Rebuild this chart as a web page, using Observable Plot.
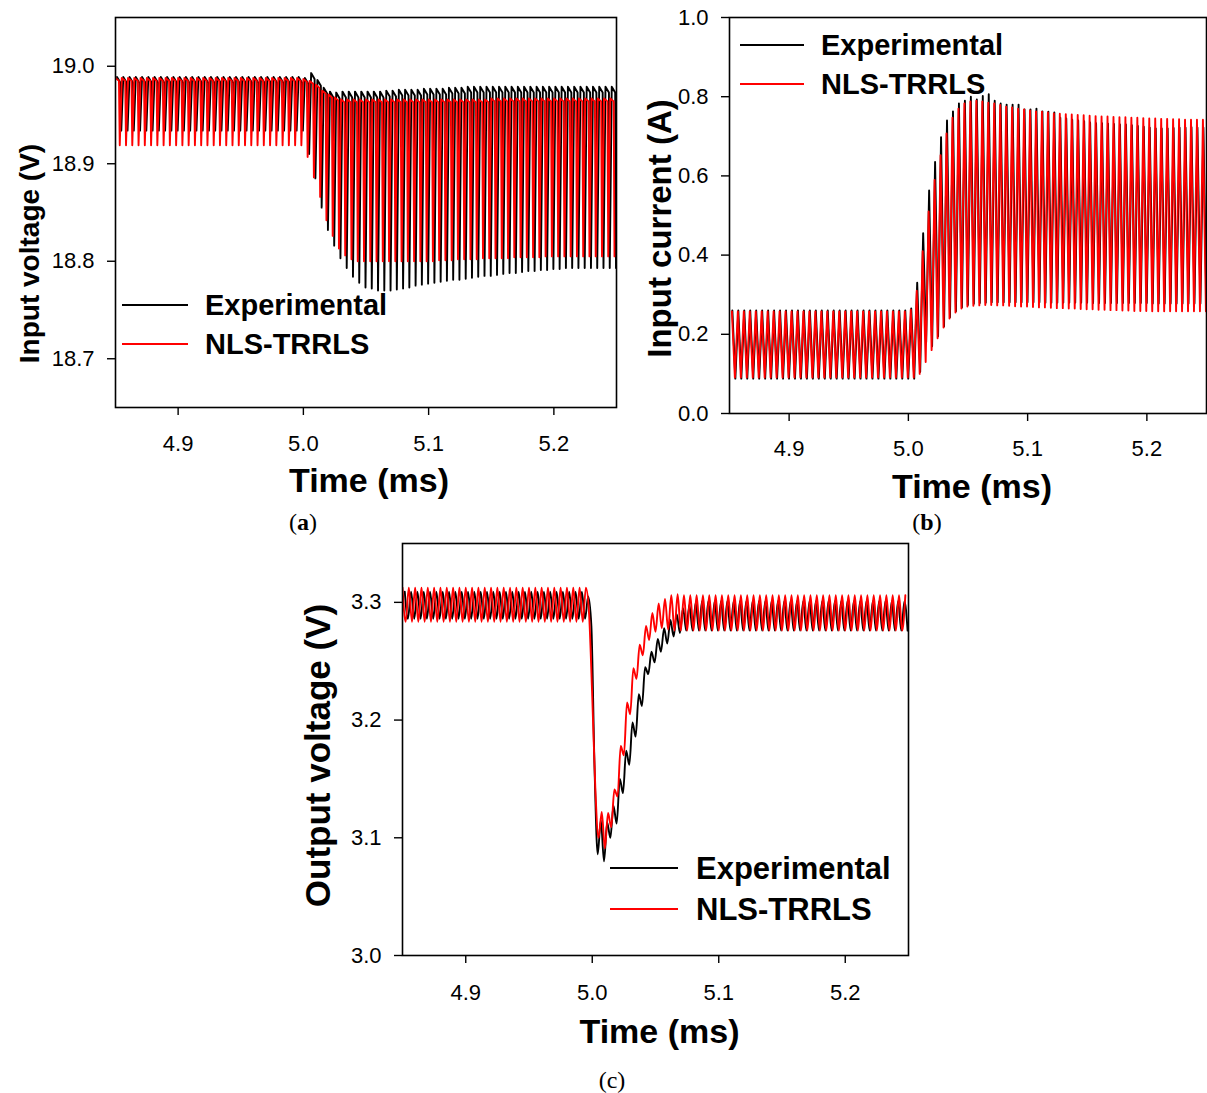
<!DOCTYPE html>
<html>
<head>
<meta charset="utf-8">
<script src="https://cdn.jsdelivr.net/npm/d3@7"></script>
<script src="https://cdn.jsdelivr.net/npm/@observablehq/plot@0.6"></script>
<style>
  body { margin: 0; background: #fff; }
  #root { position: relative; width: 1207px; height: 1093px; overflow: hidden; background: #fff;
          font-family: "Liberation Sans", Arial, sans-serif; }
  .panel { position: absolute; }
  .panel svg { display: block; max-width: none !important; }
  .lg-line { position: absolute; height: 2px; }
  .lg-text { position: absolute; font-weight: bold; line-height: 1; transform: translateY(-50%); color: #000; white-space: nowrap; }
  .cap { position: absolute; font-family: "Liberation Serif", "DejaVu Serif", serif; font-size: 24px;
         transform: translate(-50%, -50%); color: #000; white-space: nowrap; }
</style>
</head>
<body>
<div id="root"></div>
<script>
// ---------------- DATA ----------------
const seriesNames = ["Experimental", "NLS-TRRLS"];
const seriesColors = ["#000000", "#ff0000"];
const xTicks = [4.9, 5.0, 5.1, 5.2];
const yTicksA = [18.7, 18.8, 18.9, 19.0];
const yTicksB = [0.0, 0.2, 0.4, 0.6, 0.8, 1.0];
const yTicksC = [3.0, 3.1, 3.2, 3.3];
const panelCaptions = ["a", "b", "c"];

// start time (ms) of each switching cycle
const cycleStart = [
  4.850,4.855,4.860,4.865,4.870,4.875,4.880,4.885,4.890,4.895,
  4.900,4.905,4.910,4.915,4.920,4.925,4.930,4.935,4.940,4.945,
  4.950,4.955,4.960,4.965,4.970,4.975,4.980,4.985,4.990,4.995,
  5.000,5.005,5.010,5.015,5.020,5.025,5.030,5.035,5.040,5.045,
  5.050,5.055,5.060,5.065,5.070,5.075,5.080,5.085,5.090,5.095,
  5.100,5.105,5.110,5.115,5.120,5.125,5.130,5.135,5.140,5.145,
  5.150,5.155,5.160,5.165,5.170,5.175,5.180,5.185,5.190,5.195,
  5.200,5.205,5.210,5.215,5.220,5.225,5.230,5.235,5.240,5.245
];

// (a) Input voltage (V): per-cycle peak and trough
const aExpPeak = [
  18.989,18.989,18.989,18.989,18.989,18.989,18.989,18.989,18.989,18.989,
  18.989,18.989,18.989,18.989,18.989,18.989,18.989,18.989,18.989,18.989,
  18.989,18.989,18.989,18.989,18.989,18.989,18.989,18.989,18.989,18.989,
  18.988,18.993,18.986,18.978,18.974,18.973,18.974,18.974,18.974,18.974,
  18.974,18.974,18.974,18.975,18.975,18.976,18.976,18.976,18.976,18.977,
  18.977,18.977,18.977,18.978,18.978,18.978,18.979,18.979,18.979,18.979,
  18.979,18.979,18.979,18.979,18.979,18.979,18.979,18.979,18.979,18.979,
  18.979,18.979,18.979,18.979,18.979,18.979,18.979,18.979,18.979,18.979
];
const aExpTrough = [
  18.934,18.934,18.934,18.934,18.934,18.934,18.934,18.934,18.934,18.934,
  18.934,18.934,18.934,18.934,18.934,18.934,18.934,18.934,18.934,18.934,
  18.934,18.934,18.934,18.934,18.934,18.934,18.934,18.934,18.934,18.934,
  18.910,18.885,18.855,18.832,18.816,18.803,18.793,18.784,18.778,18.773,
  18.772,18.770,18.770,18.770,18.771,18.772,18.773,18.775,18.776,18.777,
  18.778,18.779,18.780,18.781,18.781,18.782,18.783,18.784,18.785,18.785,
  18.786,18.787,18.788,18.788,18.789,18.790,18.790,18.791,18.791,18.792,
  18.792,18.793,18.793,18.793,18.793,18.793,18.793,18.793,18.793,18.793
];
const aModPeak = [
  18.988,18.988,18.988,18.988,18.988,18.988,18.988,18.988,18.988,18.988,
  18.988,18.988,18.988,18.988,18.988,18.988,18.988,18.988,18.988,18.988,
  18.988,18.988,18.988,18.988,18.988,18.988,18.988,18.988,18.988,18.988,
  18.987,18.985,18.981,18.975,18.971,18.968,18.966,18.966,18.966,18.966,
  18.966,18.966,18.966,18.966,18.966,18.966,18.966,18.966,18.966,18.966,
  18.966,18.966,18.966,18.966,18.966,18.966,18.966,18.966,18.966,18.966,
  18.967,18.967,18.967,18.967,18.967,18.967,18.967,18.967,18.967,18.967,
  18.967,18.967,18.967,18.967,18.967,18.967,18.967,18.967,18.967,18.967
];
const aModTrough = [
  18.919,18.919,18.919,18.919,18.919,18.919,18.919,18.919,18.919,18.919,
  18.919,18.919,18.919,18.919,18.919,18.919,18.919,18.919,18.919,18.919,
  18.919,18.919,18.919,18.919,18.919,18.919,18.919,18.919,18.919,18.919,
  18.907,18.886,18.866,18.842,18.826,18.813,18.806,18.802,18.800,18.800,
  18.800,18.800,18.800,18.800,18.800,18.800,18.800,18.800,18.800,18.800,
  18.800,18.801,18.801,18.801,18.802,18.802,18.802,18.802,18.803,18.803,
  18.803,18.803,18.803,18.804,18.804,18.804,18.804,18.804,18.805,18.805,
  18.805,18.805,18.805,18.805,18.805,18.805,18.805,18.805,18.805,18.805
];

// (b) Input current (A): per-cycle peak and trough
const bExpPeak = [
  0.260,0.260,0.260,0.260,0.260,0.260,0.260,0.260,0.260,0.260,
  0.260,0.260,0.260,0.260,0.260,0.260,0.260,0.260,0.260,0.260,
  0.260,0.260,0.260,0.260,0.260,0.260,0.260,0.260,0.260,0.260,
  0.265,0.330,0.455,0.563,0.635,0.698,0.740,0.763,0.783,0.790,
  0.800,0.793,0.802,0.806,0.790,0.783,0.780,0.780,0.780,0.768,
  0.768,0.770,0.763,0.762,0.760,0.747,0.745,0.742,0.740,0.738,
  0.735,0.733,0.733,0.732,0.731,0.730,0.730,0.728,0.726,0.724,
  0.722,0.720,0.720,0.720,0.721,0.722,0.722,0.723,0.722,0.722
];
const bExpTrough = [
  0.088,0.088,0.088,0.088,0.088,0.088,0.088,0.088,0.088,0.088,
  0.088,0.088,0.088,0.088,0.088,0.088,0.088,0.088,0.088,0.088,
  0.088,0.088,0.088,0.088,0.088,0.088,0.088,0.088,0.088,0.088,
  0.088,0.105,0.180,0.170,0.195,0.220,0.243,0.258,0.268,0.274,
  0.277,0.279,0.280,0.281,0.281,0.281,0.281,0.281,0.281,0.281,
  0.281,0.281,0.280,0.280,0.280,0.280,0.280,0.280,0.280,0.280,
  0.279,0.279,0.279,0.279,0.279,0.279,0.279,0.279,0.279,0.279,
  0.278,0.278,0.278,0.278,0.278,0.278,0.278,0.278,0.278,0.278
];
const bModPeak = [
  0.258,0.258,0.258,0.258,0.258,0.258,0.258,0.258,0.258,0.258,
  0.258,0.258,0.258,0.258,0.258,0.258,0.258,0.258,0.258,0.258,
  0.258,0.258,0.258,0.258,0.258,0.258,0.258,0.258,0.258,0.258,
  0.262,0.310,0.410,0.510,0.590,0.652,0.707,0.747,0.770,0.783,
  0.788,0.790,0.788,0.785,0.783,0.779,0.775,0.773,0.770,0.768,
  0.765,0.763,0.762,0.760,0.758,0.757,0.756,0.755,0.754,0.753,
  0.752,0.751,0.750,0.750,0.749,0.748,0.748,0.747,0.747,0.746,
  0.745,0.745,0.744,0.744,0.743,0.743,0.742,0.742,0.742,0.742
];
const bModTrough = [
  0.091,0.091,0.091,0.091,0.091,0.091,0.091,0.091,0.091,0.091,
  0.091,0.091,0.091,0.091,0.091,0.091,0.091,0.091,0.091,0.091,
  0.091,0.091,0.091,0.091,0.091,0.091,0.091,0.091,0.091,0.091,
  0.091,0.100,0.130,0.160,0.190,0.217,0.240,0.255,0.265,0.270,
  0.272,0.273,0.274,0.274,0.273,0.273,0.272,0.271,0.270,0.270,
  0.269,0.268,0.268,0.267,0.266,0.266,0.265,0.265,0.264,0.263,
  0.263,0.262,0.262,0.261,0.261,0.260,0.260,0.259,0.259,0.259,
  0.258,0.258,0.258,0.258,0.258,0.258,0.258,0.258,0.258,0.258
];

// (c) Output voltage (V): value at cycle start and at mid-cycle
const cExpStart = [
  3.309,3.309,3.309,3.309,3.309,3.309,3.309,3.309,3.309,3.309,
  3.309,3.309,3.309,3.309,3.309,3.309,3.309,3.309,3.309,3.309,
  3.309,3.309,3.309,3.309,3.309,3.309,3.309,3.309,3.309,3.305,
  3.160,3.115,3.113,3.127,3.150,3.174,3.198,3.222,3.245,3.258,
  3.269,3.278,3.285,3.290,3.295,3.298,3.300,3.301,3.301,3.301,
  3.301,3.301,3.301,3.301,3.301,3.301,3.301,3.301,3.301,3.301,
  3.301,3.301,3.301,3.301,3.301,3.301,3.301,3.301,3.301,3.301,
  3.301,3.301,3.301,3.301,3.301,3.301,3.301,3.301,3.301,3.301
];
const cExpMid = [
  3.286,3.286,3.286,3.286,3.286,3.286,3.286,3.286,3.286,3.286,
  3.286,3.286,3.286,3.286,3.286,3.286,3.286,3.286,3.286,3.286,
  3.286,3.286,3.286,3.286,3.286,3.286,3.286,3.286,3.286,3.280,
  3.086,3.080,3.100,3.112,3.138,3.162,3.186,3.212,3.239,3.249,
  3.258,3.265,3.271,3.274,3.276,3.276,3.276,3.276,3.276,3.276,
  3.276,3.276,3.276,3.276,3.276,3.276,3.276,3.276,3.276,3.276,
  3.276,3.276,3.276,3.276,3.276,3.276,3.276,3.276,3.276,3.276,
  3.276,3.276,3.276,3.276,3.276,3.276,3.276,3.276,3.276,3.276
];
const cModStart = [
  3.3125,3.3125,3.3125,3.3125,3.3125,3.3125,3.3125,3.3125,3.3125,3.3125,
  3.3125,3.3125,3.3125,3.3125,3.3125,3.3125,3.3125,3.3125,3.3125,3.3125,
  3.3125,3.3125,3.3125,3.3125,3.3125,3.3125,3.3125,3.3125,3.3125,3.3125,
  3.220,3.100,3.091,3.109,3.135,3.170,3.205,3.235,3.255,3.268,
  3.275,3.278,3.277,3.276,3.276,3.276,3.276,3.276,3.276,3.276,
  3.276,3.276,3.276,3.276,3.276,3.276,3.276,3.276,3.276,3.276,
  3.276,3.276,3.276,3.276,3.276,3.276,3.276,3.276,3.276,3.276,
  3.276,3.276,3.276,3.276,3.276,3.276,3.276,3.276,3.276,3.276
];
const cModMid = [
  3.2835,3.2835,3.2835,3.2835,3.2835,3.2835,3.2835,3.2835,3.2835,3.2835,
  3.2835,3.2835,3.2835,3.2835,3.2835,3.2835,3.2835,3.2835,3.2835,3.2835,
  3.2835,3.2835,3.2835,3.2835,3.2835,3.2835,3.2835,3.2835,3.2835,3.290,
  3.140,3.122,3.121,3.141,3.178,3.215,3.244,3.264,3.280,3.291,
  3.299,3.303,3.306,3.307,3.306,3.306,3.306,3.306,3.306,3.306,
  3.306,3.306,3.306,3.306,3.306,3.306,3.306,3.306,3.306,3.306,
  3.306,3.306,3.306,3.306,3.306,3.306,3.306,3.306,3.306,3.306,
  3.306,3.306,3.306,3.306,3.306,3.306,3.306,3.306,3.306,3.306
];

// ---------------- BUILD WAVEFORM TABLES ----------------
const T = cycleStart[1] - cycleStart[0];
function sawRows(peak, trough, ph, sag) {
  const rows = [];
  cycleStart.forEach((t0, i) => {
    const t = t0 + ph;
    rows.push({t, v: peak[i]});
    rows.push({t: t + 0.55 * T, v: peak[i] - sag});
    rows.push({t: t + 0.68 * T, v: trough[i]});
  });
  return rows;
}
function halfRows(first, second, ph) {
  const rows = [];
  cycleStart.forEach((t0, i) => {
    rows.push({t: t0 + ph, v: first[i]});
    rows.push({t: t0 + ph + T / 2, v: second[i]});
  });
  return rows;
}

const fmt = d3.format(".1f");
const FONT = "Liberation Sans, Arial, sans-serif";

function panel({w, h, ml, mr, mt, mb, yDomain, yTicks, series, curve, yLabel, yLabelFs, yDx, yDy, xDx, xDy, xPad}) {
  return Plot.plot({
    width: w, height: h,
    marginLeft: ml, marginRight: mr, marginTop: mt, marginBottom: mb,
    style: {fontFamily: FONT, background: "transparent", color: "black", overflow: "visible"},
    x: {domain: [4.85, 5.25]},
    y: {domain: yDomain},
    marks: [
      ...series.map((s, k) => Plot.line(s, {x: "t", y: "v", stroke: seriesColors[k], strokeWidth: 1.9, clip: true, curve})),
      Plot.frame({stroke: "black", strokeWidth: 1.6}),
      Plot.axisX({ticks: xTicks, tickFormat: fmt, tickSize: 8, tickPadding: xPad, fontSize: 22, label: null, strokeWidth: 1.4}),
      Plot.axisY({ticks: yTicks, tickFormat: fmt, tickSize: 8, tickPadding: 13, fontSize: 22, label: null, strokeWidth: 1.4}),
      Plot.text(["Time (ms)"], {text: d => d, frameAnchor: "bottom", textAnchor: "middle", lineAnchor: "middle",
        dx: xDx, dy: xDy, fontSize: 34, fontWeight: "bold", fill: "black"}),
      Plot.text([yLabel], {text: d => d, frameAnchor: "left", textAnchor: "middle", lineAnchor: "middle", rotate: -90,
        dx: yDx, dy: yDy, fontSize: yLabelFs, fontWeight: "bold", fill: "black"})
    ]
  });
}

const root = document.getElementById("root");
function place(el, left, top, w, h) {
  const d = document.createElement("div");
  d.className = "panel";
  d.style.left = left + "px"; d.style.top = top + "px";
  d.style.width = w + "px"; d.style.height = h + "px";
  d.appendChild(el);
  root.appendChild(d);
}

// Panel (a)
place(panel({
  w: 620, h: 540, ml: 115, mr: 4, mt: 17, mb: 133,
  yDomain: [18.65, 19.05], yTicks: yTicksA,
  series: [sawRows(aExpPeak, aExpTrough, 0.0012, 0.006), sawRows(aModPeak, aModTrough, 0.0, 0.003)],
  curve: "linear", yLabel: "Input voltage (V)", yLabelFs: 28, yDx: -85, yDy: 41, xDx: 3, xDy: 74, xPad: 20
}), 0, 0, 620, 540);

// Panel (b)
place(panel({
  w: 587, h: 540, ml: 109, mr: 1, mt: 17, mb: 127,
  yDomain: [0, 1], yTicks: yTicksB,
  series: [halfRows(bExpPeak, bExpTrough, 0.0024), halfRows(bModPeak, bModTrough, 0.002)],
  curve: "linear", yLabel: "Input current (A)", yLabelFs: 33, yDx: -69, yDy: 13, xDx: 4, xDy: 74, xPad: 19
}), 620, 0, 587, 540);

// Panel (c)
place(panel({
  w: 1207, h: 553, ml: 402, mr: 299, mt: 3, mb: 138,
  yDomain: [3.0, 3.35], yTicks: yTicksC,
  series: [halfRows(cExpStart, cExpMid, 0.0018), halfRows(cModStart, cModMid, 0.0)],
  curve: "monotone-x", yLabel: "Output voltage (V)", yLabelFs: 35, yDx: -84, yDy: 6, xDx: 4, xDy: 77, xPad: 21
}), 0, 540, 1207, 553);

// Legends
function legend(x1, x2, xt, ys, fs) {
  seriesNames.forEach((name, k) => {
    const ln = document.createElement("div");
    ln.className = "lg-line";
    ln.style.left = x1 + "px"; ln.style.top = (ys[k] - 1) + "px";
    ln.style.width = (x2 - x1) + "px"; ln.style.background = seriesColors[k];
    root.appendChild(ln);
    const tx = document.createElement("div");
    tx.className = "lg-text";
    tx.style.left = xt + "px"; tx.style.top = ys[k] + "px"; tx.style.fontSize = fs + "px";
    tx.textContent = name;
    root.appendChild(tx);
  });
}
legend(122, 188, 205, [305, 344], 29);
legend(740, 804, 821, [45, 84], 29);
legend(610, 678, 696, [868, 909], 31);

// Captions
const capPos = [[303, 522], [927, 522], [612, 1080]];
panelCaptions.forEach((c, k) => {
  const d = document.createElement("div");
  d.className = "cap";
  d.style.left = capPos[k][0] + "px"; d.style.top = capPos[k][1] + "px";
  d.innerHTML = k < 2 ? "(<b>" + c + "</b>)" : "(" + c + ")";
  root.appendChild(d);
});
</script>
</body>
</html>
